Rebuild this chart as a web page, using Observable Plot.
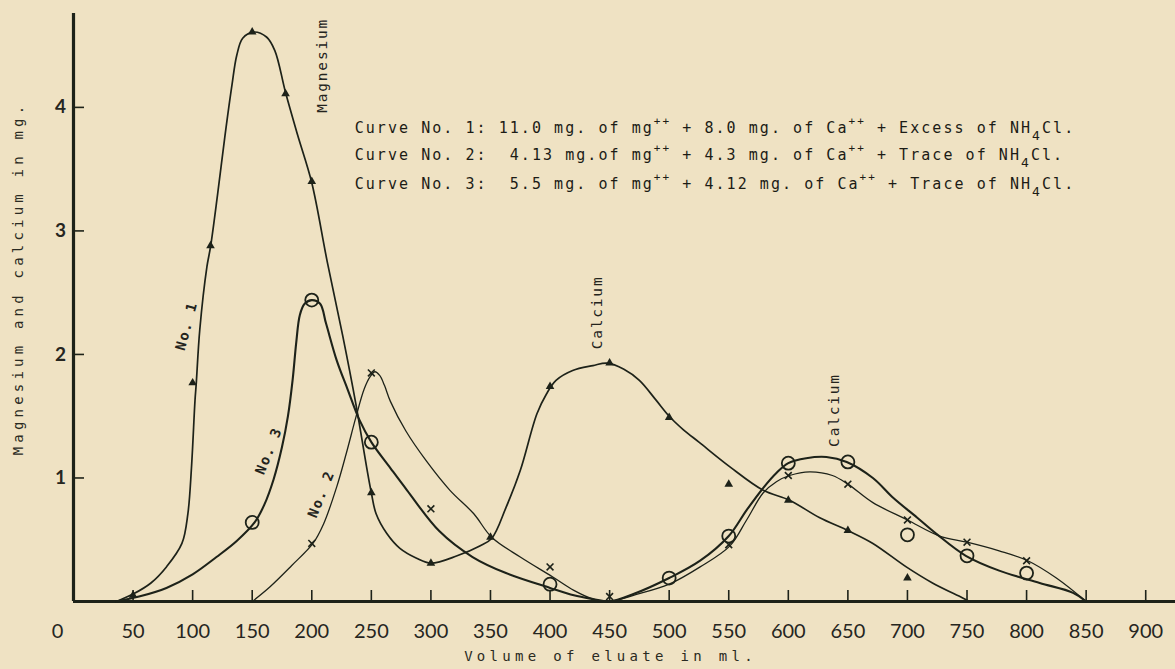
<!DOCTYPE html>
<html><head><meta charset="utf-8">
<script src="https://cdn.jsdelivr.net/npm/d3@7"></script>
<script src="https://cdn.jsdelivr.net/npm/@observablehq/plot@0.6"></script>
<style>
html,body{margin:0;padding:0;background:#efe2c3;}
#chart svg{display:block;}
</style></head><body><div id="chart"></div>
<script>
// ---- data ----
const xTicks = [50,100,150,200,250,300,350,400,450,500,550,600,650,700,750,800,850,900];
const yTicks = [1,2,3,4];

// hand-drawn curve paths [volume ml, mg]
const curve1Path = [[36,0],[50,0.06],[65,0.15],[78,0.28],[91,0.47],[96,0.71],[99,1.08],[102,1.63],[103,1.76],[106,2.2],[112,2.71],[115,2.87],[121,3.3],[127,3.76],[133,4.18],[137,4.42],[142,4.56],[151,4.61],[162,4.57],[169,4.46],[178,4.12],[188,3.78],[200,3.39],[213,2.75],[226,2.15],[237,1.6],[246,1.09],[250,0.88],[254,0.71],[263,0.55],[274,0.43],[288,0.35],[300,0.31],[322,0.37],[341,0.45],[351,0.51],[363,0.76],[375,1.06],[389,1.52],[397,1.68],[405,1.79],[419,1.87],[436,1.91],[448,1.93],[462,1.88],[475,1.79],[489,1.63],[500,1.50],[512,1.39],[525,1.29],[551,1.09],[579,0.90],[601,0.82],[626,0.68],[651,0.57],[671,0.47],[699,0.28],[721,0.15],[746,0.03],[752,0]];
const curve2Path = [[150,0],[165,0.12],[183,0.29],[201,0.47],[210,0.63],[221,0.93],[229,1.2],[237,1.49],[244,1.72],[249,1.82],[253,1.86],[257,1.83],[261,1.75],[266,1.62],[279,1.38],[296,1.14],[316,0.90],[336,0.71],[351,0.52],[375,0.36],[402,0.20],[420,0.09],[436,0.02],[450,0],[470,0.05],[500,0.14],[526,0.28],[551,0.45],[565,0.66],[579,0.88],[590,0.97],[601,1.02],[618,1.05],[637,1.02],[650,0.95],[671,0.80],[700,0.66],[727,0.53],[750,0.48],[777,0.41],[801,0.33],[825,0.19],[850,0]];
const curve3Path = [[36,0],[55,0.04],[78,0.11],[100,0.22],[120,0.36],[137,0.49],[152,0.64],[160,0.78],[168,0.99],[175,1.25],[180,1.5],[184,1.8],[187,2.1],[190,2.32],[194,2.41],[200,2.44],[207,2.41],[212,2.25],[221,1.95],[230,1.72],[240,1.47],[250,1.29],[266,1.08],[280,0.90],[307,0.57],[335,0.36],[363,0.23],[400,0.11],[420,0.05],[436,0.02],[450,0],[470,0.06],[500,0.19],[526,0.33],[550,0.53],[565,0.74],[579,0.92],[590,1.04],[600,1.12],[615,1.16],[632,1.17],[649,1.13],[671,1.00],[688,0.84],[708,0.68],[724,0.55],[749,0.37],[777,0.25],[811,0.15],[839,0.07],[850,0]];

// measured points
const curve1Points = [[50,0.05],[100,1.77],[115,2.88],[150,4.61],[178,4.11],[200,3.40],[250,0.88],[300,0.31],[350,0.52],[400,1.74],[450,1.93],[500,1.49],[550,0.95],[600,0.82],[650,0.575],[700,0.19]];
const curve2Points = [[200,0.47],[250,1.85],[300,0.75],[400,0.28],[450,0.04],[550,0.46],[600,1.02],[650,0.95],[700,0.66],[750,0.48],[800,0.33]];
const curve3Points = [[150,0.64],[200,2.44],[250,1.29],[400,0.14],[500,0.19],[550,0.53],[600,1.12],[650,1.13],[700,0.54],[750,0.37],[800,0.23]];

// texts
const xTitle = "Volume of eluate in ml.";
const yTitle = "Magnesium and calcium in mg.";
const legendLines = [
  "Curve No. 1: 11.0 mg. of mg\u207A\u207A + 8.0 mg. of Ca\u207A\u207A + Excess of NH\u2084Cl.",
  "Curve No. 2:  4.13 mg.of mg\u207A\u207A + 4.3 mg. of Ca\u207A\u207A + Trace of NH\u2084Cl.",
  "Curve No. 3:  5.5 mg. of mg\u207A\u207A + 4.12 mg. of Ca\u207A\u207A + Trace of NH\u2084Cl."
];
const legendAnchor = {x: 236, y: [3.83, 3.61, 3.38]};
const labels = [
  {text: "Magnesium", x: 209, y: 4.34},
  {text: "Calcium", x: 440, y: 2.34},
  {text: "Calcium", x: 639, y: 1.55}
];
const curveLabels = [
  {text: "No. 1", x: 95, y: 2.23, rotate: -75},
  {text: "No. 3", x: 164, y: 1.22, rotate: -68},
  {text: "No. 2", x: 208, y: 0.87, rotate: -68}
];

// ---- build ----
const ink = "#1d2219";
const rows = (pts) => pts.map(([x, y]) => ({x, y}));
const mono = "DejaVu Sans Mono";

const chart = Plot.plot({
  width: 1175,
  height: 669,
  marginLeft: 73,
  marginRight: 0,
  marginTop: 13,
  marginBottom: 68,
  x: {domain: [0, 925], range: [73, 1175], axis: null},
  y: {domain: [0, 4.76], range: [601, 13], axis: null},
  style: {background: "#efe2c3", color: ink, overflow: "visible"},
  marks: [
    // ticks pointing inward
    Plot.axisX(xTicks, {anchor: "bottom", label: null, tickSize: 11, dy: -11, tickFormat: () => "", strokeWidth: 1.6, stroke: ink}),
    Plot.axisY(yTicks, {anchor: "left", label: null, tickSize: 11, dx: 11, tickFormat: () => "", strokeWidth: 1.6, stroke: ink}),
    // axis lines
    Plot.ruleY([0], {stroke: ink, strokeWidth: 3.2}),
    Plot.ruleX([0], {stroke: ink, strokeWidth: 3.2}),
    // tick labels
    Plot.text(xTicks, {x: d => d, y: 0, dy: 30, text: d => String(d), fontFamily: "Lato", fontSize: 20, fill: "#26261f"}),
    Plot.text([0], {x: d => d, y: 0, dy: 30, dx: -16, text: d => String(d), fontFamily: "Lato", fontSize: 20, fill: "#26261f"}),
    Plot.text(yTicks, {x: 0, y: d => d, dx: -13, text: d => String(d), fontFamily: "Lato", fontWeight: "bold", fontSize: 19, fill: "#26261f"}),
    // axis titles
    Plot.text([xTitle], {frameAnchor: "bottom", textAnchor: "middle", dy: 59, dx: -14, fontFamily: mono, fontSize: 14, fill: "#2a2a22"}),
    Plot.text([yTitle], {frameAnchor: "left", textAnchor: "middle", dx: -55, dy: -29, rotate: -90, fontFamily: mono, fontSize: 14, fill: "#2a2a22"}),
    // curves
    Plot.line(rows(curve1Path), {x: "x", y: "y", curve: "catmull-rom", stroke: ink, strokeWidth: 1.7}),
    Plot.line(rows(curve2Path), {x: "x", y: "y", curve: "catmull-rom", stroke: ink, strokeWidth: 1.3}),
    Plot.line(rows(curve3Path), {x: "x", y: "y", curve: "catmull-rom", stroke: ink, strokeWidth: 2.1}),
    // markers
    Plot.dot(rows(curve1Points), {x: "x", y: "y", symbol: "triangle", r: 3.2, fill: ink, stroke: "none"}),
    Plot.dot(rows(curve2Points), {x: "x", y: "y", symbol: "times", r: 3.2, stroke: ink, strokeWidth: 1.6, fill: "none"}),
    Plot.dot(rows(curve3Points), {x: "x", y: "y", symbol: "circle", r: 6.5, stroke: ink, strokeWidth: 1.8, fill: "none"}),
    // legend
    Plot.text(legendLines, {x: legendAnchor.x, y: (d, i) => legendAnchor.y[i], text: d => d, textAnchor: "start", fontFamily: mono, fontSize: 15, fill: "#1c1c16"}),
    // annotations
    Plot.text(labels, {x: "x", y: "y", text: "text", rotate: -90, fontFamily: mono, fontSize: 14.5, fill: "#24241d"}),
    Plot.text(curveLabels, {x: "x", y: "y", text: "text", rotate: "rotate", fontFamily: mono, fontWeight: "bold", fontSize: 14, fill: "#24241d"})
  ]
});

// typewriter letter spacing, raised ++ and lowered 4 in the legend
const SVGNS = "http://www.w3.org/2000/svg";
d3.select(chart).selectAll("text").each(function () {
  const t = this.textContent;
  if (t === xTitle) this.setAttribute("letter-spacing", "4.3");
  else if (t === yTitle) this.setAttribute("letter-spacing", "4.2");
  else if (t === "Magnesium" || t === "Calcium") this.setAttribute("letter-spacing", "1.8");
  else if (t.startsWith("No.")) this.setAttribute("letter-spacing", "1.5");
  else if (legendLines.includes(t)) {
    this.setAttribute("letter-spacing", "2.05");
    const parts = t.split(/(\u207A\u207A|\u2084)/).filter(p => p);
    this.textContent = "";
    let shift = 0;
    for (const p of parts) {
      const ts = document.createElementNS(SVGNS, "tspan");
      let target = 0;
      if (p === "\u207A\u207A") { ts.textContent = "++"; ts.setAttribute("font-size", "11"); target = -8; }
      else if (p === "\u2084") { ts.textContent = "4"; ts.setAttribute("font-size", "13"); target = 7; }
      else ts.textContent = p;
      if (target - shift !== 0) ts.setAttribute("dy", target - shift);
      shift = target;
      this.appendChild(ts);
    }
  }
});

document.getElementById("chart").appendChild(chart);
</script>
</body></html>
